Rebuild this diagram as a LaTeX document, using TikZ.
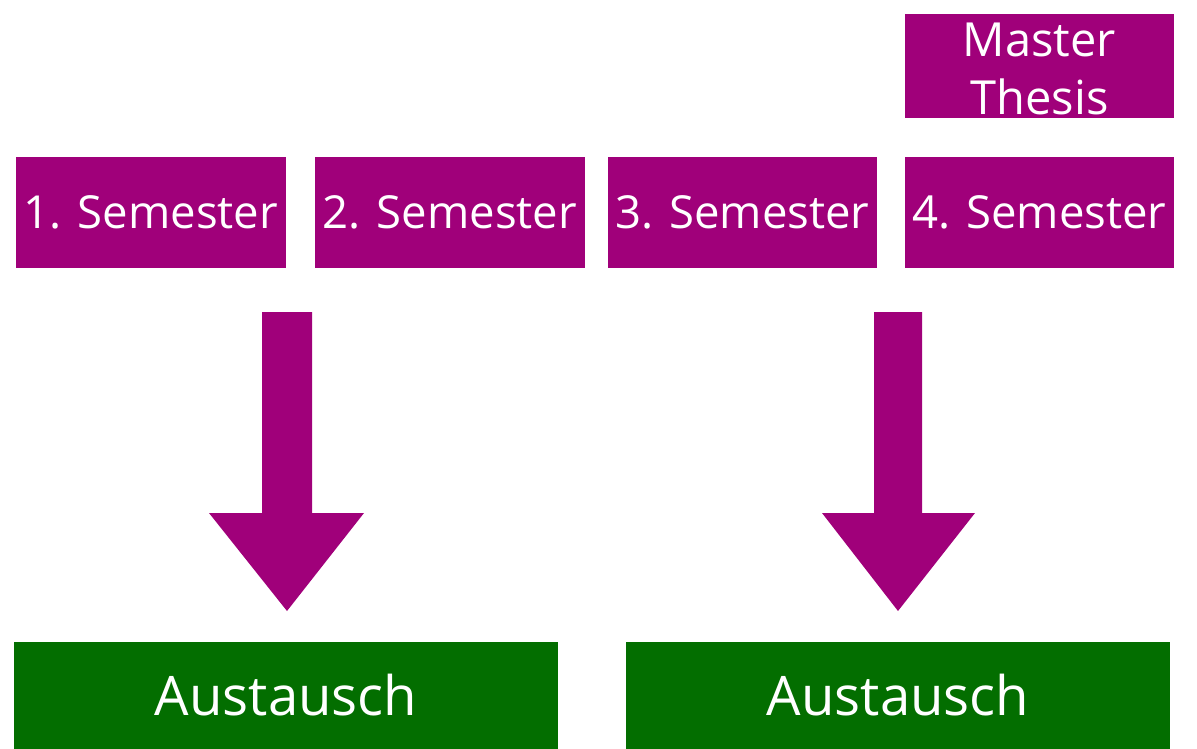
\documentclass[tikz,border=0pt]{standalone}
\usepackage{fontspec}
\setmainfont{Open Sans}
\definecolor{purp}{RGB}{160,0,122}
\definecolor{grn}{RGB}{3,110,0}
\begin{document}
\begin{tikzpicture}[x=1pt,y=-1pt,
  sem/.style={fill=purp,text=white,inner sep=0pt,minimum width=270pt,minimum height=111pt,font=\fontsize{45.5}{58}\selectfont},
  exch/.style={fill=grn,text=white,inner sep=0pt,minimum width=544pt,minimum height=107pt,font=\fontsize{54.5}{64}\selectfont},
  blockarrow/.style={fill=purp}]
\useasboundingbox (0,0) rectangle (1197,749);
\node[sem] (s1) at (151,212.5) {\raisebox{-3pt}{1. Semester}};
\node[sem] (s2) at (450,212.5) {\raisebox{-1pt}{2. Semester}};
\node[sem,minimum width=269pt] (s3) at (742.5,212.5) {\raisebox{-3pt}{3. Semester}};
\node[sem,minimum width=269pt] (s4) at (1039.5,212.5) {\raisebox{-3pt}{4. Semester}};
\node[sem,minimum width=269pt,minimum height=104pt,font=\fontsize{47}{58}\selectfont] (mt) at (1039.5,66) {\raisebox{-49pt}[0pt][0pt]{\begin{tabular}[b]{@{}c@{}}Master\\Thesis\end{tabular}}};
\node[exch] (a1) at (286,695.5) {\raisebox{-4pt}{Austausch}};
\node[exch] (a2) at (898,695.5) {\raisebox{-4pt}{Austausch}};
\fill[blockarrow] (262,312) -- (312,312) -- (312,513) -- (364,513) -- (287,611) -- (209,513) -- (262,513) -- cycle;
\fill[blockarrow] (874,312) -- (922,312) -- (922,513) -- (975,513) -- (898,611) -- (822,513) -- (874,513) -- cycle;
\end{tikzpicture}
\end{document}
